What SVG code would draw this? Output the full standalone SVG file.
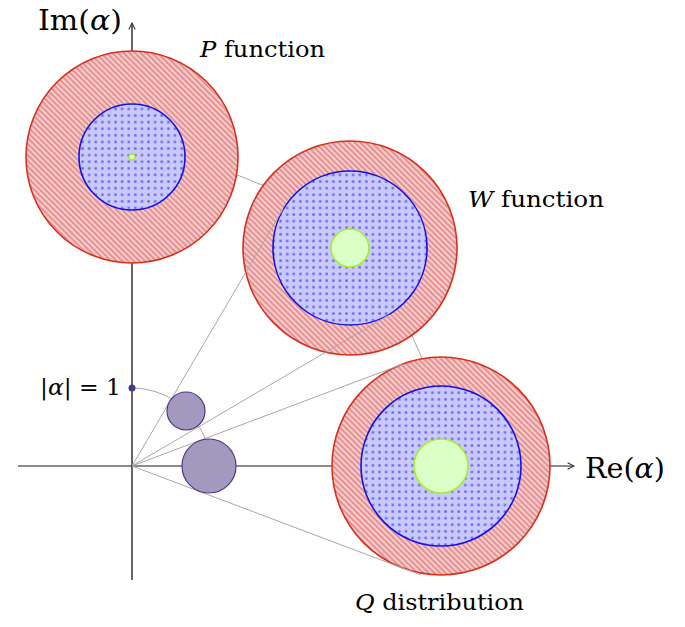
<svg xmlns="http://www.w3.org/2000/svg" width="685" height="627" viewBox="0 0 685 627">
<style>
.ring{fill:url(#hatch);stroke:#d8301c;stroke-width:1.6}
.inner{fill:url(#dots);stroke:#1010ee;stroke-width:1.6}
.core{fill:#dcffc8;stroke:#a6ee2c;stroke-width:1.6}
.conn{stroke:#a8a8a8;stroke-width:1;fill:none}
.small{fill:#a398bd;stroke:#4a3a86;stroke-width:1.2}
.lbl{font-family:"DejaVu Serif","Liberation Serif",serif;fill:#000}
.it{font-style:italic}
</style>
<defs>
<pattern id="hatch" width="4" height="4" patternUnits="userSpaceOnUse" patternTransform="rotate(45)">
<rect width="4" height="4" fill="#f6cccc"/>
<line x1="0" y1="2" x2="4" y2="2" stroke="#d85858" stroke-width="1"/>
</pattern>
<pattern id="dots" width="6.6" height="6.6" patternUnits="userSpaceOnUse">
<rect width="6.6" height="6.6" fill="#c9c9ff"/>
<rect x="2.2" y="2.2" width="2.3" height="2.3" fill="#5e5ef2"/>
</pattern>
<marker id="arr" viewBox="0 0 10 10" refX="9" refY="5" markerWidth="8" markerHeight="8" markerUnits="userSpaceOnUse" orient="auto">
<path d="M1,1 L9,5 L1,9" fill="none" stroke="#333" stroke-width="1.3"/>
</marker>
</defs>
<g id="axes">
<line x1="18" y1="466" x2="574" y2="466" stroke="#666" stroke-width="1.3" marker-end="url(#arr)"/>
<line x1="132" y1="580" x2="132" y2="23" stroke="#000" stroke-width="1.2" marker-end="url(#arr)"/>
</g>
<g id="connectors-back">
<line class="conn" x1="215" y1="166" x2="282" y2="193"/>
<line class="conn" x1="404" y1="318" x2="430" y2="376"/>
<path class="conn" d="M132,388 A78,78 0 0 1 205.3,439.3"/>
</g>
<g id="P">
<circle class="ring" cx="132" cy="157" r="106"/>
<circle class="inner" cx="132" cy="157" r="53"/>
<circle class="core" cx="132" cy="157" r="3"/>
</g>
<g id="W">
<circle class="ring" cx="350" cy="248" r="107"/>
<circle class="inner" cx="350" cy="248" r="77"/>
<circle class="core" cx="350" cy="248" r="19"/>
</g>
<g id="Q">
<circle class="ring" cx="441" cy="466" r="109"/>
<circle class="inner" cx="441" cy="466" r="80"/>
<circle class="core" cx="441" cy="466" r="27"/>
</g>
<g id="connectors">
<line class="conn" x1="132" y1="466" x2="283" y2="209"/>
<line class="conn" x1="132" y1="466" x2="389" y2="315"/>
<line class="conn" x1="132" y1="466" x2="403" y2="364"/>
<line class="conn" x1="132" y1="466" x2="421" y2="575"/>
</g>
<g id="alpha1">
<circle class="small" cx="186" cy="411" r="19"/>
</g>
<g id="alpha2">
<circle class="small" cx="209" cy="466" r="27"/>
</g>
<g id="unit-point">
<circle cx="132" cy="388" r="3.5" fill="#4a3a86"/>
</g>
<g id="labels">
<text class="lbl" x="38" y="30" font-size="27" textLength="84" lengthAdjust="spacingAndGlyphs">Im(<tspan class="it">α</tspan>)</text>
<text class="lbl" x="585" y="478" font-size="27" textLength="80" lengthAdjust="spacingAndGlyphs">Re(<tspan class="it">α</tspan>)</text>
<text class="lbl" x="200" y="57" font-size="22" textLength="125" lengthAdjust="spacingAndGlyphs"><tspan class="it">P</tspan> function</text>
<text class="lbl" x="468" y="207" font-size="22" textLength="136" lengthAdjust="spacingAndGlyphs"><tspan class="it">W</tspan> function</text>
<text class="lbl" x="355" y="610" font-size="22" textLength="169" lengthAdjust="spacingAndGlyphs"><tspan class="it">Q</tspan> distribution</text>
<text class="lbl" x="40" y="395" font-size="22" textLength="81" lengthAdjust="spacingAndGlyphs">|<tspan class="it">α</tspan>| = 1</text>
</g>
</svg>
